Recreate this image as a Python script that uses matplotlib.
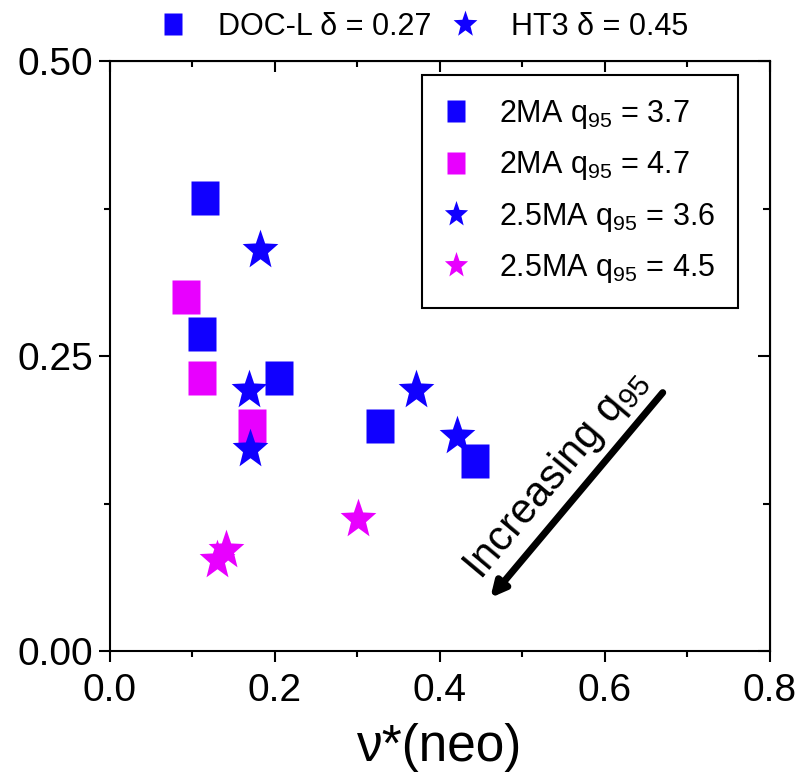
import numpy as np
import matplotlib
matplotlib.use("Agg")
import matplotlib.pyplot as plt
from matplotlib.path import Path

plt.rcParams['font.family'] = ['Liberation Sans', 'DejaVu Sans']
plt.rcParams['mathtext.default'] = 'regular'

# data
sq_blue_x = [0.115, 0.111, 0.205, 0.327, 0.442]
sq_blue_y = [0.384, 0.269, 0.231, 0.191, 0.161]
sq_mag_x = [0.092, 0.111, 0.172]
sq_mag_y = [0.300, 0.231, 0.191]
st_blue_x = [0.182, 0.169, 0.170, 0.371, 0.421]
st_blue_y = [0.340, 0.221, 0.171, 0.221, 0.182]
st_mag_x = [0.141, 0.130, 0.301]
st_mag_y = [0.086, 0.077, 0.112]

labels = ["2MA q$_{95}$ = 3.7", "2MA q$_{95}$ = 4.7",
          "2.5MA q$_{95}$ = 3.6", "2.5MA q$_{95}$ = 4.5"]
top_labels = ["DOC-L δ = 0.27", "HT3 δ = 0.45"]

blue = "#1000FF"
magenta = "#E800FF"

# markers slightly taller than wide (as in the picture)
sq_marker = [(-0.8, -1), (0.8, -1), (0.8, 1), (-0.8, 1), (-0.8, -1)]
star = Path.unit_regular_star(5, 0.42).vertices
st_marker = [(vx * 0.9, vy) for vx, vy in star]

fig = plt.figure(figsize=(8.04, 7.83), dpi=100)
ax = fig.add_axes([0.1368, 0.1686, 0.8209, 0.7534])

h1, = ax.plot(sq_blue_x, sq_blue_y, ls="none", marker=sq_marker, ms=25, color=blue, mec="none")
h2, = ax.plot(sq_mag_x, sq_mag_y, ls="none", marker=sq_marker, ms=25, color=magenta, mec="none")
h3, = ax.plot(st_blue_x, st_blue_y, ls="none", marker=st_marker, ms=30, color=blue, mec="none")
h4, = ax.plot(st_mag_x, st_mag_y, ls="none", marker=st_marker, ms=30, color=magenta, mec="none")

ax.set_xlim(0, 0.8)
ax.set_ylim(0, 0.5)
ax.set_xticks([0.0, 0.2, 0.4, 0.6, 0.8])
ax.set_yticks([0.0, 0.25, 0.5])
ax.set_xticks(np.arange(0.1, 0.8, 0.2), minor=True)
ax.set_yticks([0.125, 0.375], minor=True)
ax.set_xticklabels(["0.0", "0.2", "0.4", "0.6", "0.8"])
ax.set_yticklabels(["0.00", "0.25", "0.50"])
ax.tick_params(which="both", direction="out", labelsize=28, width=1.5, pad=4)
ax.tick_params(axis="x", which="both", pad=8)
ax.tick_params(which="major", length=8)
ax.tick_params(which="minor", length=4.5)
for s in ax.spines.values():
    s.set_linewidth(1.5)

# mirrored inward ticks on top / right
axt = ax.secondary_xaxis("top")
axt.set_xticks([0.0, 0.2, 0.4, 0.6, 0.8])
axt.set_xticks(np.arange(0.1, 0.8, 0.2), minor=True)
axt.tick_params(which="both", direction="in", labeltop=False, width=1.5)
axt.tick_params(which="major", length=8)
axt.tick_params(which="minor", length=4.5)
axr = ax.secondary_yaxis("right")
axr.set_yticks([0.0, 0.25, 0.5])
axr.set_yticks([0.125, 0.375], minor=True)
axr.tick_params(which="both", direction="in", labelright=False, width=1.5)
axr.tick_params(which="major", length=9)
axr.tick_params(which="minor", length=5)

ax.set_xlabel("ν*(neo)", fontsize=37, labelpad=10)

leg = ax.legend([h1, h2, h3, h4], labels, loc="upper right",
                bbox_to_anchor=(0.9515, 0.976), borderaxespad=0,
                fontsize=22, markerscale=0.65, fancybox=False,
                edgecolor="black", framealpha=1, handletextpad=1.05,
                handlelength=0.72, labelspacing=0.6, borderpad=0.75)
leg.get_frame().set_linewidth(1.5)
ax.add_artist(leg)

t1, = ax.plot([], [], ls="none", marker=sq_marker, ms=16, color=blue, mec="none")
t2, = ax.plot([], [], ls="none", marker=st_marker, ms=20, color=blue, mec="none")
ax.legend([t1, t2], top_labels, loc="lower center", bbox_to_anchor=(0.474, 1.012),
          ncol=2, frameon=False, fontsize=22, columnspacing=0.6,
          handlelength=1.0, handletextpad=1.0, borderaxespad=0)

ax.annotate("", xy=(0.461, 0.045), xytext=(0.670, 0.219),
            arrowprops=dict(arrowstyle="-|>", lw=5, color="black",
                            mutation_scale=22, shrinkA=0, shrinkB=0))
ax.text(0.540, 0.150, "Increasing q$_{95}$", fontsize=30, rotation=50,
        ha="center", va="center", rotation_mode="anchor")

fig.savefig("out.png", dpi=100)
